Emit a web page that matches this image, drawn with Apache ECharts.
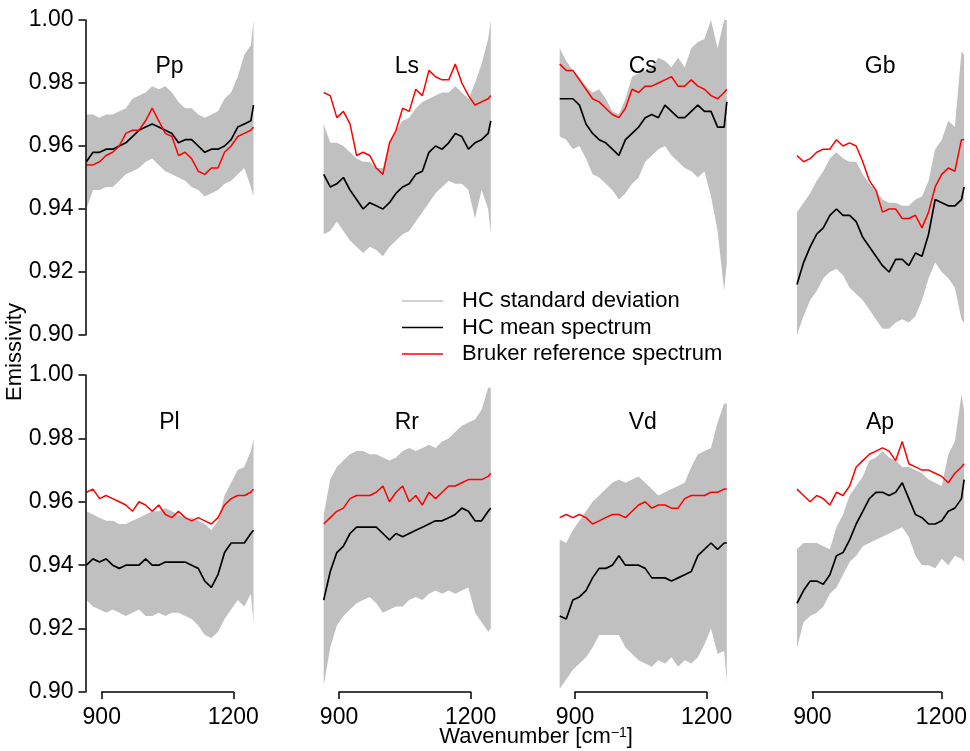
<!DOCTYPE html>
<html>
<head>
<meta charset="utf-8">
<title>Emissivity spectra</title>
<script src="https://cdn.jsdelivr.net/npm/echarts@6/dist/echarts.min.js"></script>
<style>
  html, body { margin: 0; padding: 0; background: #fff; }
  #chart { width: 970px; height: 751px; }
</style>
</head>
<body>
<div id="chart"></div>
<script>
  // wavenumber sampling (cm-1), shared by every panel
  const wavenumber = [865, 880, 895, 910, 925, 940, 955, 970, 985, 1000, 1015, 1030, 1045, 1060,
    1075, 1090, 1105, 1120, 1135, 1150, 1165, 1180, 1195, 1210, 1225, 1240, 1246];

  const panelNames = ['Pp', 'Ls', 'Cs', 'Gb', 'Pl', 'Rr', 'Vd', 'Ap'];
  const yTicks = { min: 0.9, max: 1.0, step: 0.02 };
  const xTicks = [900, 1200];

  // Pp
  const ppUpper = [0.970, 0.970, 0.969, 0.970, 0.970, 0.971, 0.972, 0.975, 0.976, 0.977, 0.979, 0.978, 0.979, 0.977, 0.974, 0.972, 0.972, 0.970, 0.969, 0.970, 0.971, 0.975, 0.977, 0.982, 0.989, 0.992, 1.000];
  const ppLower = [0.940, 0.946, 0.946, 0.947, 0.947, 0.949, 0.951, 0.952, 0.953, 0.955, 0.956, 0.954, 0.952, 0.951, 0.950, 0.949, 0.947, 0.946, 0.944, 0.945, 0.946, 0.948, 0.949, 0.951, 0.953, 0.947, 0.944];
  const ppMean  = [0.955, 0.958, 0.958, 0.959, 0.959, 0.960, 0.961, 0.963, 0.965, 0.966, 0.967, 0.966, 0.965, 0.964, 0.961, 0.962, 0.962, 0.960, 0.958, 0.959, 0.959, 0.960, 0.962, 0.966, 0.967, 0.968, 0.973];
  const ppRef   = [0.954, 0.954, 0.955, 0.957, 0.958, 0.960, 0.964, 0.965, 0.965, 0.968, 0.972, 0.968, 0.964, 0.963, 0.957, 0.958, 0.956, 0.952, 0.951, 0.953, 0.953, 0.958, 0.960, 0.963, 0.964, 0.965, 0.966];

  // Ls
  const lsUpper = [0.967, 0.961, 0.961, 0.960, 0.958, 0.956, 0.955, 0.955, 0.953, 0.953, 0.961, 0.965, 0.968, 0.969, 0.972, 0.974, 0.975, 0.976, 0.977, 0.977, 0.979, 0.977, 0.975, 0.980, 0.986, 0.994, 1.000];
  const lsLower = [0.932, 0.933, 0.936, 0.933, 0.930, 0.928, 0.926, 0.928, 0.927, 0.925, 0.928, 0.930, 0.932, 0.933, 0.936, 0.939, 0.942, 0.945, 0.947, 0.949, 0.948, 0.948, 0.946, 0.937, 0.946, 0.940, 0.932];
  const lsMean  = [0.951, 0.947, 0.948, 0.950, 0.946, 0.943, 0.940, 0.942, 0.941, 0.940, 0.942, 0.945, 0.947, 0.948, 0.951, 0.952, 0.958, 0.960, 0.959, 0.961, 0.964, 0.963, 0.959, 0.961, 0.962, 0.964, 0.968];
  const lsRef   = [0.977, 0.976, 0.969, 0.971, 0.967, 0.957, 0.958, 0.957, 0.953, 0.951, 0.961, 0.965, 0.972, 0.971, 0.978, 0.976, 0.984, 0.982, 0.981, 0.981, 0.986, 0.980, 0.976, 0.973, 0.974, 0.975, 0.976];

  // Cs
  const csUpper = [0.991, 0.987, 0.984, 0.982, 0.979, 0.977, 0.978, 0.975, 0.971, 0.970, 0.975, 0.982, 0.983, 0.984, 0.985, 0.988, 0.987, 0.985, 0.988, 0.985, 0.991, 0.993, 0.994, 1.002, 0.991, 1.002, 1.002];
  const csLower = [0.963, 0.962, 0.959, 0.960, 0.956, 0.951, 0.950, 0.948, 0.946, 0.943, 0.945, 0.948, 0.950, 0.955, 0.957, 0.959, 0.960, 0.957, 0.955, 0.953, 0.952, 0.950, 0.952, 0.944, 0.933, 0.914, 0.923];
  const csMean  = [0.975, 0.975, 0.975, 0.973, 0.967, 0.964, 0.962, 0.961, 0.959, 0.957, 0.962, 0.964, 0.966, 0.969, 0.970, 0.969, 0.973, 0.971, 0.969, 0.969, 0.971, 0.973, 0.971, 0.971, 0.966, 0.966, 0.974];
  const csRef   = [0.986, 0.984, 0.984, 0.981, 0.978, 0.975, 0.974, 0.972, 0.970, 0.969, 0.972, 0.978, 0.977, 0.979, 0.979, 0.980, 0.981, 0.982, 0.979, 0.979, 0.981, 0.979, 0.978, 0.976, 0.975, 0.977, 0.978];

  // Gb
  const gbUpper = [0.939, 0.942, 0.945, 0.949, 0.952, 0.956, 0.958, 0.956, 0.955, 0.955, 0.951, 0.948, 0.946, 0.943, 0.942, 0.942, 0.941, 0.941, 0.943, 0.944, 0.949, 0.959, 0.962, 0.968, 0.966, 0.990, 0.989];
  const gbLower = [0.900, 0.906, 0.911, 0.914, 0.918, 0.920, 0.921, 0.919, 0.915, 0.913, 0.911, 0.908, 0.905, 0.902, 0.902, 0.904, 0.905, 0.904, 0.906, 0.911, 0.918, 0.923, 0.920, 0.918, 0.915, 0.905, 0.904];
  const gbMean  = [0.916, 0.923, 0.928, 0.932, 0.934, 0.938, 0.940, 0.938, 0.938, 0.936, 0.931, 0.928, 0.925, 0.922, 0.920, 0.924, 0.924, 0.922, 0.926, 0.925, 0.932, 0.943, 0.942, 0.941, 0.941, 0.943, 0.947];
  const gbRef   = [0.957, 0.955, 0.956, 0.958, 0.959, 0.959, 0.962, 0.960, 0.961, 0.960, 0.955, 0.949, 0.946, 0.939, 0.940, 0.940, 0.937, 0.937, 0.938, 0.934, 0.939, 0.947, 0.951, 0.953, 0.952, 0.962, 0.962];

  // Pl
  const plUpper = [0.957, 0.956, 0.955, 0.954, 0.954, 0.953, 0.953, 0.954, 0.955, 0.956, 0.957, 0.957, 0.958, 0.957, 0.956, 0.955, 0.955, 0.954, 0.953, 0.951, 0.954, 0.962, 0.966, 0.970, 0.971, 0.976, 0.980];
  const plLower = [0.929, 0.927, 0.926, 0.925, 0.926, 0.925, 0.924, 0.925, 0.926, 0.924, 0.924, 0.925, 0.924, 0.925, 0.925, 0.924, 0.923, 0.921, 0.918, 0.917, 0.919, 0.923, 0.926, 0.929, 0.927, 0.931, 0.922];
  const plMean  = [0.940, 0.942, 0.941, 0.942, 0.940, 0.939, 0.940, 0.940, 0.940, 0.942, 0.940, 0.940, 0.941, 0.941, 0.941, 0.941, 0.940, 0.939, 0.935, 0.933, 0.937, 0.944, 0.947, 0.947, 0.947, 0.950, 0.951];
  const plRef   = [0.963, 0.964, 0.961, 0.962, 0.961, 0.960, 0.959, 0.957, 0.960, 0.959, 0.957, 0.959, 0.956, 0.955, 0.957, 0.955, 0.954, 0.955, 0.954, 0.953, 0.955, 0.959, 0.961, 0.962, 0.962, 0.963, 0.964];

  // Rr
  const rrUpper = [0.956, 0.967, 0.971, 0.973, 0.975, 0.976, 0.976, 0.975, 0.975, 0.974, 0.973, 0.974, 0.976, 0.977, 0.976, 0.977, 0.978, 0.977, 0.979, 0.980, 0.982, 0.984, 0.985, 0.986, 0.989, 0.996, 0.996];
  const rrLower = [0.902, 0.914, 0.921, 0.924, 0.926, 0.928, 0.929, 0.930, 0.928, 0.925, 0.926, 0.927, 0.927, 0.929, 0.930, 0.929, 0.931, 0.932, 0.931, 0.932, 0.931, 0.932, 0.933, 0.925, 0.922, 0.919, 0.920];
  const rrMean  = [0.929, 0.938, 0.944, 0.946, 0.950, 0.952, 0.952, 0.952, 0.952, 0.950, 0.948, 0.950, 0.949, 0.950, 0.951, 0.952, 0.953, 0.954, 0.954, 0.955, 0.956, 0.958, 0.957, 0.954, 0.954, 0.957, 0.958];
  const rrRef   = [0.953, 0.955, 0.957, 0.958, 0.961, 0.962, 0.962, 0.962, 0.963, 0.965, 0.960, 0.963, 0.965, 0.960, 0.962, 0.959, 0.963, 0.961, 0.963, 0.965, 0.965, 0.966, 0.967, 0.967, 0.967, 0.968, 0.969];

  // Vd
  const vdUpper = [0.948, 0.947, 0.951, 0.954, 0.957, 0.960, 0.962, 0.964, 0.966, 0.967, 0.966, 0.967, 0.968, 0.966, 0.964, 0.962, 0.963, 0.964, 0.965, 0.966, 0.971, 0.975, 0.976, 0.977, 0.985, 0.991, 0.991];
  const vdLower = [0.901, 0.904, 0.907, 0.909, 0.911, 0.914, 0.918, 0.918, 0.918, 0.918, 0.914, 0.912, 0.910, 0.909, 0.908, 0.910, 0.909, 0.911, 0.908, 0.910, 0.909, 0.911, 0.915, 0.920, 0.912, 0.913, 0.903];
  const vdMean  = [0.924, 0.923, 0.929, 0.930, 0.932, 0.936, 0.939, 0.939, 0.940, 0.943, 0.940, 0.940, 0.940, 0.939, 0.936, 0.936, 0.936, 0.935, 0.936, 0.937, 0.938, 0.943, 0.945, 0.947, 0.945, 0.947, 0.947];
  const vdRef   = [0.955, 0.956, 0.955, 0.956, 0.955, 0.953, 0.954, 0.955, 0.956, 0.956, 0.955, 0.957, 0.959, 0.960, 0.958, 0.959, 0.959, 0.958, 0.958, 0.961, 0.962, 0.962, 0.962, 0.963, 0.963, 0.964, 0.964];

  // Ap
  const apUpper = [0.945, 0.947, 0.947, 0.947, 0.946, 0.945, 0.952, 0.956, 0.962, 0.965, 0.968, 0.973, 0.974, 0.976, 0.974, 0.973, 0.971, 0.971, 0.970, 0.969, 0.967, 0.966, 0.965, 0.975, 0.979, 0.994, 0.989];
  const apLower = [0.914, 0.922, 0.924, 0.925, 0.927, 0.931, 0.933, 0.937, 0.941, 0.943, 0.946, 0.947, 0.948, 0.949, 0.950, 0.951, 0.952, 0.949, 0.943, 0.940, 0.940, 0.939, 0.942, 0.940, 0.943, 0.942, 0.941];
  const apMean  = [0.928, 0.932, 0.935, 0.935, 0.934, 0.937, 0.943, 0.944, 0.948, 0.953, 0.957, 0.961, 0.963, 0.963, 0.962, 0.963, 0.966, 0.961, 0.956, 0.955, 0.953, 0.953, 0.954, 0.957, 0.958, 0.961, 0.967];
  const apRef   = [0.964, 0.962, 0.960, 0.962, 0.961, 0.959, 0.963, 0.962, 0.965, 0.971, 0.973, 0.975, 0.976, 0.977, 0.976, 0.973, 0.979, 0.972, 0.971, 0.970, 0.970, 0.969, 0.968, 0.966, 0.969, 0.971, 0.972];

  const panels = [
    { upper: ppUpper, lower: ppLower, mean: ppMean, ref: ppRef },
    { upper: lsUpper, lower: lsLower, mean: lsMean, ref: lsRef },
    { upper: csUpper, lower: csLower, mean: csMean, ref: csRef },
    { upper: gbUpper, lower: gbLower, mean: gbMean, ref: gbRef },
    { upper: plUpper, lower: plLower, mean: plMean, ref: plRef },
    { upper: rrUpper, lower: rrLower, mean: rrMean, ref: rrRef },
    { upper: vdUpper, lower: vdLower, mean: vdMean, ref: vdRef },
    { upper: apUpper, lower: apLower, mean: apMean, ref: apRef },
  ];

  // layout
  const FONT = 'Liberation Sans, Arial, Helvetica, sans-serif';
  const colLeft = [85.5, 322.8, 558.8, 796.1];
  const plotW = 168;
  const rowTop = [20, 375];
  const rowH = [315, 317];
  const xMin = 863;
  const xMax = 1246;
  const pxPerUnit = plotW / (xMax - xMin);

  const BAND = 'HC standard deviation';
  const MEAN = 'HC mean spectrum';
  const REF = 'Bruker reference spectrum';
  const GRAY = '#c0c0c0';

  const pair = (ys) => wavenumber.map((w, i) => [w, ys[i]]);

  // 标准差区域：上界正向 + 下界反向，组成一个多边形
  const bandRenderer = (p) => (params, api) => {
    if (params.dataIndex !== 0) return null;
    const pts = [];
    wavenumber.forEach((w, k) => pts.push(api.coord([w, p.upper[k]])));
    for (let k = wavenumber.length - 1; k >= 0; k--) pts.push(api.coord([wavenumber[k], p.lower[k]]));
    const cs = params.coordSys;
    return {
      type: 'polygon',
      shape: { points: echarts.graphic.clipPointsByRect(pts, { x: cs.x, y: cs.y, width: cs.width, height: cs.height }) },
      style: { fill: GRAY, stroke: null },
      silent: true,
    };
  };

  const grid = [];
  const xAxis = [];
  const yAxis = [];
  const series = [];
  const title = [];

  panels.forEach((p, i) => {
    const row = Math.floor(i / 4);
    const col = i % 4;
    grid.push({ left: colLeft[col], top: rowTop[row], width: plotW, height: rowH[row] });

    xAxis.push({ gridIndex: i, type: 'value', min: xMin, max: xMax, show: false });

    yAxis.push({
      gridIndex: i,
      type: 'value',
      min: yTicks.min,
      max: yTicks.max,
      interval: yTicks.step,
      show: col === 0,
      z: 5,
      splitLine: { show: false },
      axisLine: { show: true, lineStyle: { color: '#000', width: 1.5 } },
      axisTick: { show: true, length: 7, lineStyle: { color: '#000', width: 1.5 } },
      axisLabel: {
        show: true,
        margin: 12,
        color: '#000',
        fontSize: 23,
        fontFamily: FONT,
        formatter: (v) => v.toFixed(2),
      },
    });

    series.push({
      type: 'custom',
      name: 'band-area-' + i,
      xAxisIndex: i,
      yAxisIndex: i,
      data: pair(p.upper),
      encode: { x: 0, y: 1 },
      itemStyle: { color: GRAY },
      renderItem: bandRenderer(p),
      z: 1,
    });
    series.push({
      type: 'line',
      name: MEAN,
      xAxisIndex: i,
      yAxisIndex: i,
      data: pair(p.mean),
      symbol: 'none',
      itemStyle: { color: '#000' },
      lineStyle: { color: '#000', width: 1.7 },
      z: 3,
    });
    series.push({
      type: 'line',
      name: REF,
      xAxisIndex: i,
      yAxisIndex: i,
      data: pair(p.ref),
      symbol: 'none',
      itemStyle: { color: '#ff0000' },
      lineStyle: { color: '#ff0000', width: 1.5 },
      z: 4,
    });

    title.push({
      text: panelNames[i],
      left: colLeft[col] + plotW / 2,
      top: row === 0 ? 55 : 411,
      textAlign: 'center',
      padding: 0,
      textStyle: { fontSize: 23, fontWeight: 'normal', color: '#000', fontFamily: FONT },
    });
  });

  // legend entry for the grey band
  series.push({
    type: 'line',
    name: BAND,
    xAxisIndex: 0,
    yAxisIndex: 0,
    data: [],
    symbol: 'none',
    itemStyle: { color: GRAY },
    lineStyle: { color: GRAY, width: 0 },
  });

  // bottom x axes: line only spans 900-1200
  for (let col = 0; col < 4; col++) {
    const gi = grid.length;
    grid.push({
      left: colLeft[col] + (xTicks[0] - xMin) * pxPerUnit,
      top: rowTop[1],
      width: (xTicks[1] - xTicks[0]) * pxPerUnit,
      height: rowH[1],
    });
    xAxis.push({
      gridIndex: gi,
      type: 'value',
      min: xTicks[0],
      max: xTicks[1],
      interval: xTicks[1] - xTicks[0],
      z: 5,
      splitLine: { show: false },
      axisLine: { show: true, lineStyle: { color: '#000', width: 1.5 } },
      axisTick: { show: true, length: 7, lineStyle: { color: '#000', width: 1.5 } },
      axisLabel: {
        show: true,
        margin: 14,
        color: '#000',
        fontSize: 23,
        fontFamily: FONT,
        formatter: (v) => String(v),
      },
    });
    yAxis.push({ gridIndex: gi, type: 'value', min: 0, max: 1, show: false });
  }

  title.push({
    text: 'Wavenumber [cm{sup|\u22121}]',
    left: 536,
    top: 726,
    textAlign: 'center',
    padding: 0,
    textStyle: {
      fontSize: 22,
      fontWeight: 'normal',
      color: '#000',
      fontFamily: FONT,
      rich: { sup: { fontSize: 14, verticalAlign: 'top', color: '#000', fontFamily: FONT, lineHeight: 14 } },
    },
  });

  const chart = echarts.init(document.getElementById('chart'), null, { renderer: 'canvas' });
  chart.setOption({
    animation: false,
    backgroundColor: '#fff',
    title,
    grid,
    xAxis,
    yAxis,
    series,
    legend: {
      orient: 'vertical',
      left: 402,
      top: 290,
      padding: 0,
      itemGap: 4.5,
      itemWidth: 41,
      itemHeight: 1.6,
      icon: 'rect',
      selectedMode: false,
      itemStyle: { borderWidth: 0 },
      textStyle: { fontSize: 22, color: '#000', fontFamily: FONT, padding: [0, 0, 0, 14] },
      data: [BAND, MEAN, REF],
    },
    graphic: [
      {
        type: 'text',
        x: 15,
        y: 352,
        rotation: Math.PI / 2,
        style: {
          text: 'Emissivity',
          fontSize: 22,
          fontFamily: FONT,
          fill: '#000',
          align: 'center',
          verticalAlign: 'middle',
        },
      },
    ],
  });
</script>
</body>
</html>
